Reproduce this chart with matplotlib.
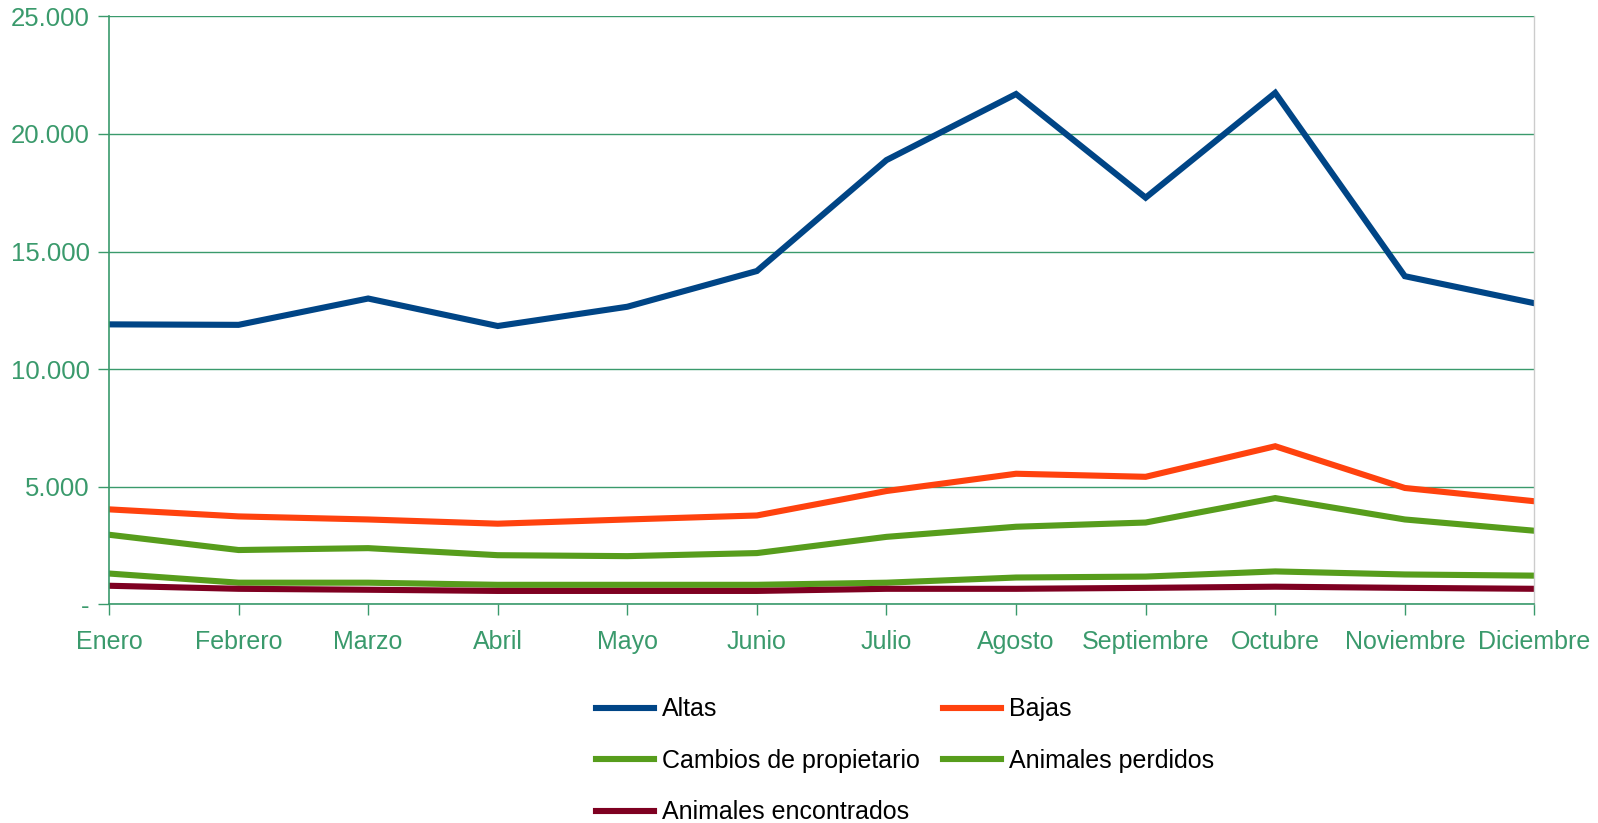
import matplotlib
matplotlib.use("Agg")
import matplotlib.pyplot as plt
from matplotlib.ticker import FuncFormatter

plt.rcParams['font.family'] = ['Liberation Sans', 'DejaVu Sans']

meses = ['Enero', 'Febrero', 'Marzo', 'Abril', 'Mayo', 'Junio', 'Julio',
         'Agosto', 'Septiembre', 'Octubre', 'Noviembre', 'Diciembre']

altas = [11900, 11880, 13000, 11830, 12650, 14170, 18890, 21700, 17290, 21750, 13950, 12800]
bajas = [4030, 3730, 3600, 3420, 3600, 3770, 4810, 5545, 5415, 6715, 4940, 4375]
cambios = [2950, 2300, 2380, 2080, 2040, 2170, 2860, 3290, 3470, 4510, 3600, 3120]
perdidos = [1300, 910, 910, 820, 820, 820, 910, 1130, 1170, 1390, 1260, 1210]
encontrados = [780, 650, 610, 560, 560, 560, 650, 650, 690, 740, 690, 650]

verde = '#3a9a6c'

fig = plt.figure(figsize=(15.98, 8.23), dpi=100)
ax = fig.add_axes([0.0682, 0.266, 0.892, 0.714])

x = list(range(len(meses)))
lw = 4.4
l1, = ax.plot(x, altas, color='#004586', lw=lw, label='Altas', solid_joinstyle='miter')
l2, = ax.plot(x, bajas, color='#ff420e', lw=lw, label='Bajas', solid_joinstyle='miter')
l3, = ax.plot(x, cambios, color='#579d1c', lw=lw, label='Cambios de propietario', solid_joinstyle='miter')
l4, = ax.plot(x, perdidos, color='#579d1c', lw=lw, label='Animales perdidos', solid_joinstyle='miter')
l5, = ax.plot(x, encontrados, color='#7e0021', lw=lw, label='Animales encontrados', solid_joinstyle='miter')

ax.set_xlim(0, 11)
ax.set_ylim(0, 25000)
ax.set_yticks(range(0, 25001, 5000))
ax.yaxis.set_major_formatter(FuncFormatter(
    lambda v, p: '-' if v == 0 else f'{int(v):,}'.replace(',', '.')))
ax.set_xticks(x)
ax.set_xticklabels(meses)

ax.grid(axis='y', color=verde, lw=1.0)
ax.set_axisbelow(True)
for s in ['left', 'bottom']:
    ax.spines[s].set_color(verde)
    ax.spines[s].set_linewidth(1.2)
ax.spines['top'].set_visible(False)
ax.spines['right'].set_color('#cccccc')
ax.spines['right'].set_linewidth(1.0)

ax.tick_params(axis='x', colors=verde, labelsize=18, length=8, width=1.0, pad=11)
ax.tick_params(axis='y', colors=verde, labelsize=18.5, length=8, width=1.0, pad=6)

handles = [l1, l3, l5, l2, l4]
fig.legend(handles=handles, labels=[h.get_label() for h in handles], ncol=2,
           loc='upper left', bbox_to_anchor=(0.359, 0.180), frameon=False,
           fontsize=18, handlelength=2.3, handletextpad=0.32, columnspacing=0.95,
           labelspacing=1.1)

fig.savefig('out.png', dpi=100)
